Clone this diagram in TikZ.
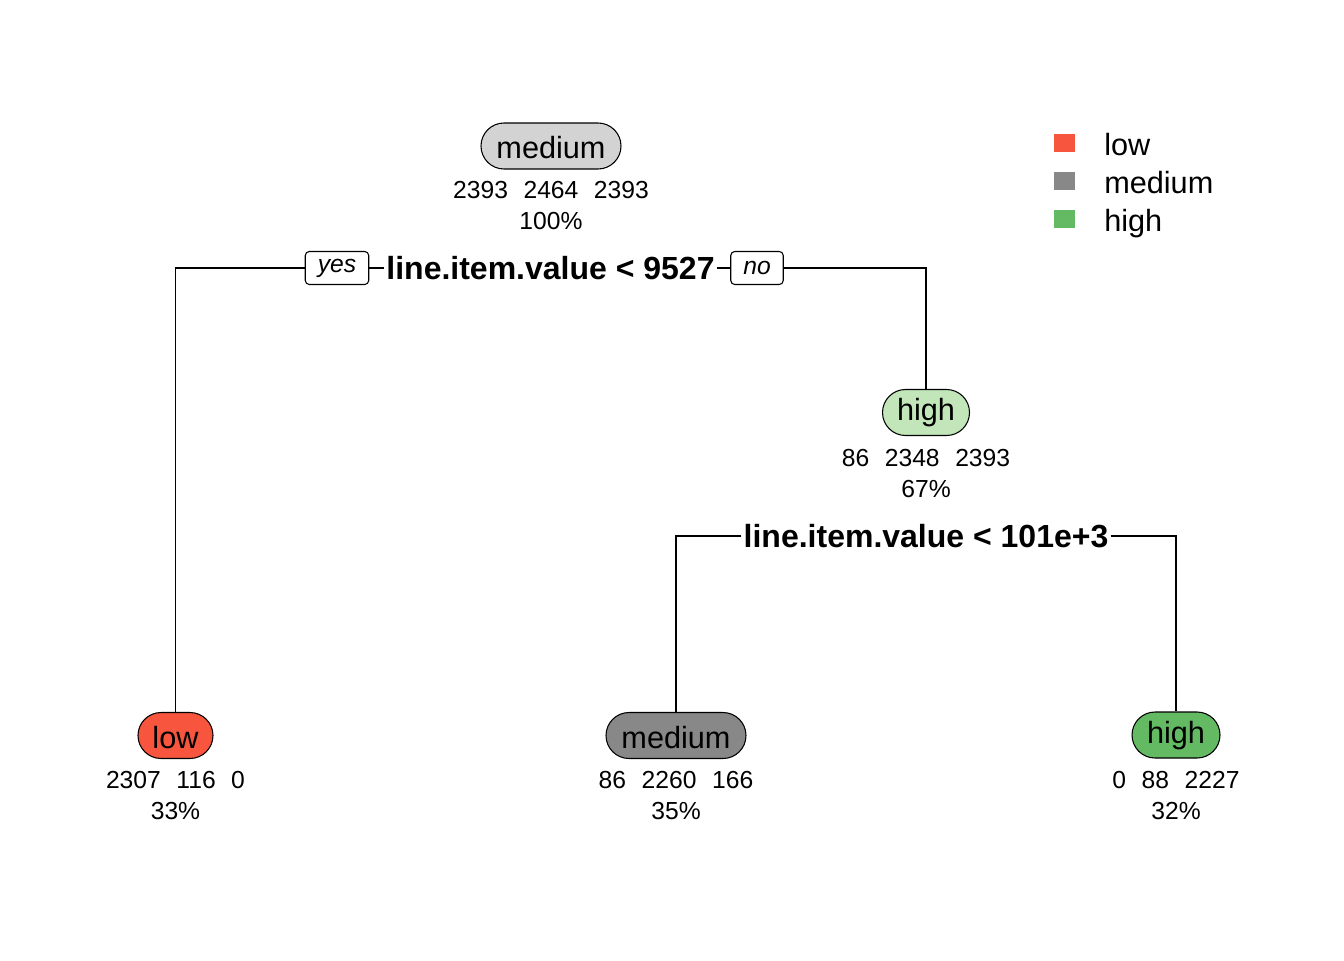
\documentclass[tikz,border=0pt]{standalone}
\usepackage{fontspec}
\setmainfont{Liberation Sans}
\usetikzlibrary{shapes.misc}
\definecolor{cLow}{HTML}{F8553F}
\definecolor{cMed}{HTML}{888888}
\definecolor{cHigh}{HTML}{63BA63}
\definecolor{cRoot}{HTML}{D3D3D3}
\definecolor{cHighL}{HTML}{C2E6B9}
\newcommand{\gp}{\hspace{0.63em}}
\begin{document}
\begin{tikzpicture}[x=0.75pt,y=-0.75pt,
  pill/.style={rounded rectangle, draw, line width=0.8pt, minimum height=34.5pt, inner sep=0pt, text height=18.75pt, text depth=0pt, font=\fontsize{23}{27}\selectfont},
  desc/.style={text depth=6.5pt},
  stats/.style={font=\fontsize{18.5}{23.25}\selectfont, align=center, inner sep=0pt},
  splitlab/.style={font=\bfseries\fontsize{24}{28}\selectfont, inner sep=1.5pt},
  yn/.style={draw, line width=0.8pt, rounded corners=3pt, fill=white, font=\itshape\fontsize{18.5}{22}\selectfont, minimum height=24.75pt, inner xsep=9.4pt, inner ysep=0pt},
  conn/.style={draw, line width=0.8pt},
  legsq/.style={fill=#1, draw=none, minimum width=15.75pt, minimum height=13.5pt, inner sep=0pt},
  legtxt/.style={anchor=base west, inner sep=0pt, font=\fontsize{23}{27}\selectfont}]
\useasboundingbox (0,0) rectangle (1344,960);

% nodes
\node[pill, fill=cRoot, minimum width=105pt] (root) at (551,146) {medium};
\node[stats] (rootst) at (551,205.5) {2393\gp2464\gp2393\\100\%};

\node[pill, desc, fill=cHighL, minimum width=65.25pt] (high) at (926,412.5) {high};
\node[stats] (highst) at (926,473.5) {86\gp2348\gp2393\\67\%};

\node[pill, fill=cLow, minimum width=56.25pt] (low) at (175.5,735.5) {low};
\node[stats] (lowst) at (175.5,795) {2307\gp116\gp0\\33\%};

\node[pill, fill=cMed, minimum width=105pt] (med) at (676,735.5) {medium};
\node[stats] (medst) at (676,795) {86\gp2260\gp166\\35\%};

\node[pill, desc, fill=cHigh, minimum width=66pt] (high2) at (1176,735) {high};
\node[stats] (high2st) at (1176,795) {0\gp88\gp2227\\32\%};

% split labels
\node[splitlab] (split1) at (550.5,268) {line.item.value < 9527};
\node[yn] (yes) at (337,268) {yes};
\node[yn] (no) at (757,268) {no};
\node[splitlab] (split2) at (926,536) {line.item.value < 101e+3};

% connectors
\path[conn] (yes.west) -| (low.north);
\path[conn] (split1.west) -- (yes.east);
\path[conn] (split1.east) -- (no.west);
\path[conn] (no.east) -| (high.north);
\path[conn] (split2.west) -| (med.north);
\path[conn] (split2.east) -| (high2.north);

% legend
\node[legsq=cLow] (lg1) at (1064.5,143) {};
\node[legsq=cMed] (lg2) at (1064.5,181) {};
\node[legsq=cHigh] (lg3) at (1064.5,219) {};
\node[legtxt] (lt1) at (1104,155) {low};
\node[legtxt] (lt2) at (1104,193) {medium};
\node[legtxt] (lt3) at (1104,231) {high};
\end{tikzpicture}
\end{document}
